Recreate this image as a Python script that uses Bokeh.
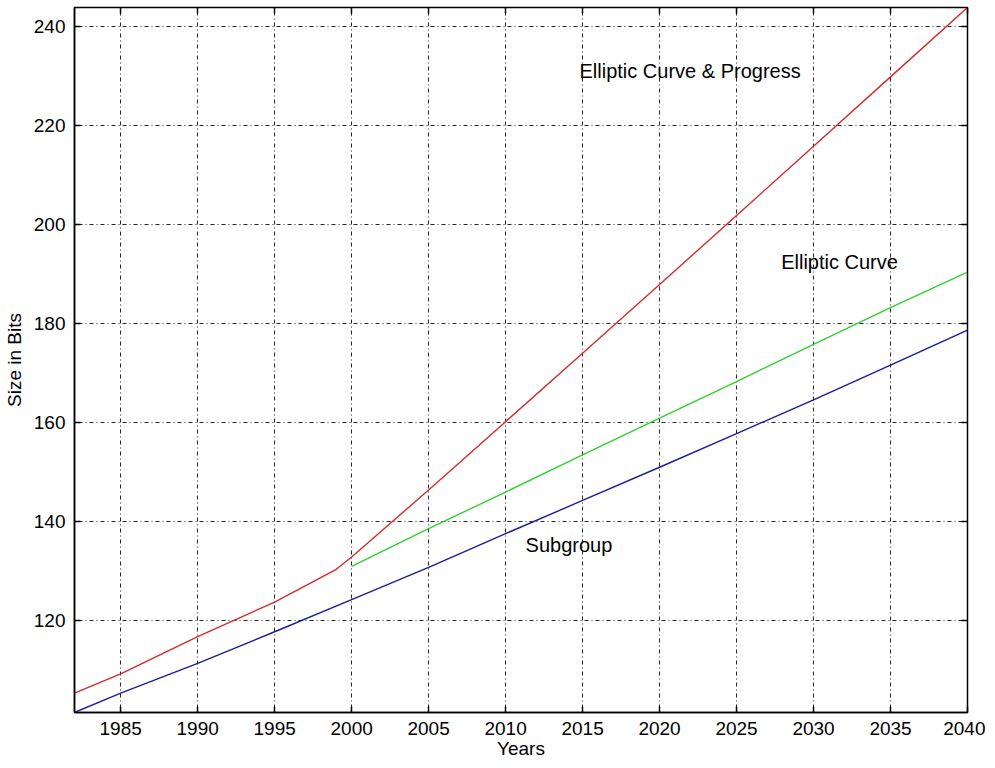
from bokeh.plotting import figure
from bokeh.models import Range1d, LinearAxis, FixedTicker, Label, CustomJSTickFormatter
from bokeh.embed import file_html
from bokeh.resources import INLINE

# Data (key size in bits by year)
years_subgroup = [1982, 1985, 1990, 1995, 2000, 2005, 2010, 2015, 2020, 2025, 2030, 2035, 2040]
bits_subgroup = [101.5, 105.4, 111.4, 117.8, 124.3, 130.8, 137.6, 144.3, 151.0, 157.8, 164.6, 171.6, 178.7]

years_ec = [2000, 2005, 2010, 2015, 2020, 2025, 2030, 2035, 2040]
bits_ec = [131.0, 138.6, 146.0, 153.5, 160.9, 168.3, 175.8, 183.2, 190.4]

years_ecp = [1982, 1985, 1990, 1995, 1999, 2000, 2005, 2010, 2015, 2020, 2025, 2030, 2035, 2040]
bits_ecp = [105.4, 109.3, 116.8, 123.8, 130.4, 132.9, 146.4, 160.2, 174.0, 187.9, 201.8, 215.8, 229.8, 243.8]

x_ticks = [1985, 1990, 1995, 2000, 2005, 2010, 2015, 2020, 2025, 2030, 2035, 2040]
y_ticks = [120, 140, 160, 180, 200, 220, 240]

labels = [
    ("Elliptic Curve & Progress", 2014.8, 231.0),
    ("Elliptic Curve", 2027.9, 192.4),
    ("Subgroup", 2011.3, 135.3),
]

FONT = "Liberation Sans"
FS = "19px"

p = figure(width=985, height=768, output_backend="svg", toolbar_location=None,
           x_range=Range1d(1982, 2040), y_range=Range1d(101.5, 243.8),
           min_border_left=72, min_border_right=18, min_border_top=7, min_border_bottom=56,
           background_fill_color="white", border_fill_color="white")

p.outline_line_color = "black"
p.outline_line_width = 1.5

for ax in (p.xaxis[0], p.yaxis[0]):
    ax.major_tick_in = 6
    ax.major_tick_out = 0
    ax.minor_tick_in = 0
    ax.minor_tick_out = 0
    ax.axis_line_color = "black"
    ax.axis_line_width = 1.5
    ax.major_tick_line_color = "black"
    ax.major_tick_line_width = 1.5
    ax.major_label_text_font = FONT
    ax.major_label_text_font_size = FS
    ax.major_label_text_color = "black"
    ax.axis_label_text_font = FONT
    ax.axis_label_text_font_size = FS
    ax.axis_label_text_font_style = "normal"
    ax.axis_label_text_color = "black"

p.xaxis[0].ticker = FixedTicker(ticks=x_ticks)
p.yaxis[0].ticker = FixedTicker(ticks=y_ticks)
p.xaxis[0].axis_label = "Years"
p.yaxis[0].axis_label = "Size in Bits"
p.xaxis[0].major_label_standoff = 9
p.yaxis[0].major_label_standoff = 9
p.xaxis[0].axis_label_standoff = 0
p.yaxis[0].axis_label_standoff = 6

# Box ticks on top and right (no labels)
blank = CustomJSTickFormatter(code="return ''")
top = LinearAxis(ticker=FixedTicker(ticks=x_ticks), formatter=blank,
                 major_tick_in=6, major_tick_out=0, minor_tick_in=0, minor_tick_out=0,
                 axis_line_color="black", major_tick_line_width=1.5, major_label_standoff=0)
right = LinearAxis(ticker=FixedTicker(ticks=y_ticks), formatter=blank,
                   major_tick_in=6, major_tick_out=0, minor_tick_in=0, minor_tick_out=0,
                   axis_line_color="black", major_tick_line_width=1.5, major_label_standoff=0)
p.add_layout(top, "above")
p.add_layout(right, "right")

p.xgrid.ticker = FixedTicker(ticks=x_ticks)
p.ygrid.ticker = FixedTicker(ticks=y_ticks)
for g in (p.xgrid[0], p.ygrid[0]):
    g.grid_line_color = "black"
    g.grid_line_alpha = 0.85
    g.grid_line_dash = "1 3 4 3"
    g.grid_line_width = 1

p.line(years_subgroup, bits_subgroup, line_color="#1c1c9c", line_width=1.4)
p.line(years_ec, bits_ec, line_color="#2fd02f", line_width=1.4)
p.line(years_ecp, bits_ecp, line_color="#d42a2a", line_width=1.4)

for txt, x, y in labels:
    p.add_layout(Label(x=x, y=y, text=txt, text_font=FONT, text_font_size="20px",
                       text_color="black", text_baseline="middle", text_align="left"))

open("out.html", "w").write(file_html(p, INLINE))
